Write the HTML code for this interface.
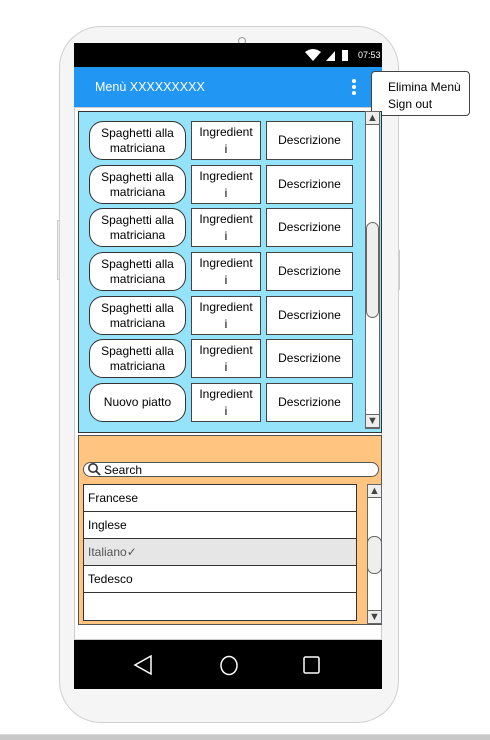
<!DOCTYPE html><html><head><style>
body{margin:0;width:490px;height:740px;background:#fff;position:relative;overflow:hidden;font-family:"Liberation Sans",sans-serif;font-size:12px;color:#000}
.a{position:absolute;box-sizing:border-box}
.pill{border:1px solid #333;border-radius:14px;background:#fff;display:flex;align-items:center;justify-content:center;text-align:center;line-height:15px}
.box{border:1px solid #444;background:#fff;display:flex;align-items:center;justify-content:center;text-align:center;line-height:17px}
.li{border:1px solid #333;padding-left:4px;display:flex;align-items:center;background:#fff}
.ar{background:#eee;border:1px solid #666;font-size:11px;text-align:center;line-height:12px;color:#444}
</style></head><body>
<div class="a" style="left:57px;top:220px;width:4px;height:60px;background:#eee;border:1px solid #ccc"></div>
<div class="a" style="left:396px;top:250px;width:4px;height:40px;background:#eee;border:1px solid #ccc"></div>
<div class="a" style="left:59px;top:26px;width:340px;height:697px;background:#f5f5f5;border:1px solid #d0d0d0;border-radius:42px"></div>
<div class="a" style="left:238px;top:37px;width:8px;height:8px;border:1px solid #999;border-radius:50%;background:#f5f5f5"></div>
<div class="a" style="left:74px;top:107px;width:308px;height:533px;background:#fff;border:1px solid #ccc"></div>
<div class="a" style="left:74px;top:43px;width:308px;height:24px;background:#000"></div>
<svg class="a" style="left:300px;top:46px" width="82" height="18"><path d="M13 15 L5 6 Q13 0 21 6Z" fill="#fff"/><path d="M26 15 L35 5 L35 15Z" fill="#fff"/><rect x="42" y="4" width="6" height="11" fill="#fff"/><text x="58" y="12" font-size="9" fill="#fff" font-family="Liberation Sans">07:53</text></svg>
<div class="a" style="left:74px;top:67px;width:308px;height:40px;background:#2196f3;color:#fff;padding:13px 0 0 21px;font-size:12.5px">Menù XXXXXXXXX</div>
<div class="a" style="left:352px;top:79px;width:4px;height:4px;background:#fff;border-radius:50%"></div>
<div class="a" style="left:352px;top:85px;width:4px;height:4px;background:#fff;border-radius:50%"></div>
<div class="a" style="left:352px;top:91px;width:4px;height:4px;background:#fff;border-radius:50%"></div>
<div class="a" style="left:371px;top:71px;width:99px;height:45px;background:#fff;border:1px solid #444;border-radius:4px;padding:7px 0 0 16px;line-height:17px">Elimina Menù<br>Sign out</div>
<div class="a" style="left:78px;top:111px;width:304px;height:322px;background:#94e3fb;border:1px solid #333"></div>
<div class="a" style="left:365px;top:111px;width:15px;height:318px;background:#fff;border:1px solid #666"></div>
<div class="a ar" style="left:365px;top:111px;width:15px;height:14px">▲</div>
<div class="a ar" style="left:365px;top:414px;width:15px;height:14px">▼</div>
<div class="a" style="left:366px;top:222px;width:13px;height:96px;background:#eee;border:1px solid #666;border-radius:7px"></div>
<div id="rows"></div>
<div class="a" style="left:78px;top:435px;width:304px;height:190px;background:#ffc580;border:1px solid #555"></div>
<div class="a" style="left:83px;top:462px;width:296px;height:15px;background:#fff;border:1px solid #555;border-radius:8px;padding-left:20px;line-height:14px">Search</div>
<svg class="a" style="left:87px;top:462px" width="16" height="15"><circle cx="6" cy="6" r="4.2" fill="none" stroke="#333" stroke-width="1.6"/><line x1="9" y1="9" x2="13" y2="13" stroke="#333" stroke-width="1.8"/></svg>
<div class="a li" style="left:83px;top:484px;width:274px;height:28px">Francese</div>
<div class="a li" style="left:83px;top:511px;width:274px;height:28px">Inglese</div>
<div class="a li" style="left:83px;top:538px;width:274px;height:28px;background:#e6e6e6;color:#555">Italiano✓</div>
<div class="a li" style="left:83px;top:565px;width:274px;height:28px">Tedesco</div>
<div class="a li" style="left:83px;top:592px;width:274px;height:29px"></div>
<div class="a" style="left:367px;top:484px;width:15px;height:140px;background:#fff;border:1px solid #666"></div>
<div class="a ar" style="left:367px;top:484px;width:15px;height:14px">▲</div>
<div class="a ar" style="left:367px;top:610px;width:15px;height:14px">▼</div>
<div class="a" style="left:367px;top:536px;width:15px;height:38px;background:#eee;border:1px solid #666;border-radius:7px"></div>
<div class="a" style="left:74px;top:640px;width:308px;height:49px;background:#000"></div>
<svg class="a" style="left:74px;top:640px" width="308" height="49"><path d="M77 16 L61 25 L77 34Z" fill="none" stroke="#fff" stroke-width="1.5"/><ellipse cx="155" cy="25.5" rx="8" ry="9" fill="none" stroke="#fff" stroke-width="1.5"/><rect x="230" y="17" width="15" height="16" rx="1.5" fill="none" stroke="#fff" stroke-width="1.5"/></svg>
<div class="a" style="left:0;top:734px;width:490px;height:6px;background:#c8c8c8;border-top:1px solid #ddd"></div>
<script>
var t=[121,165,208,252,296,339,383],h='';
t.forEach(function(y,i){
h+='<div class="a pill" style="left:89px;top:'+y+'px;width:97px;height:39px">'+(i<6?'Spaghetti alla<br>matriciana':'Nuovo piatto')+'</div>';
h+='<div class="a box" style="left:191px;top:'+y+'px;width:70px;height:39px">Ingredient<br>i</div>';
h+='<div class="a box" style="left:266px;top:'+y+'px;width:87px;height:39px">Descrizione</div>';});
document.getElementById('rows').innerHTML=h;
</script>
</body></html>
